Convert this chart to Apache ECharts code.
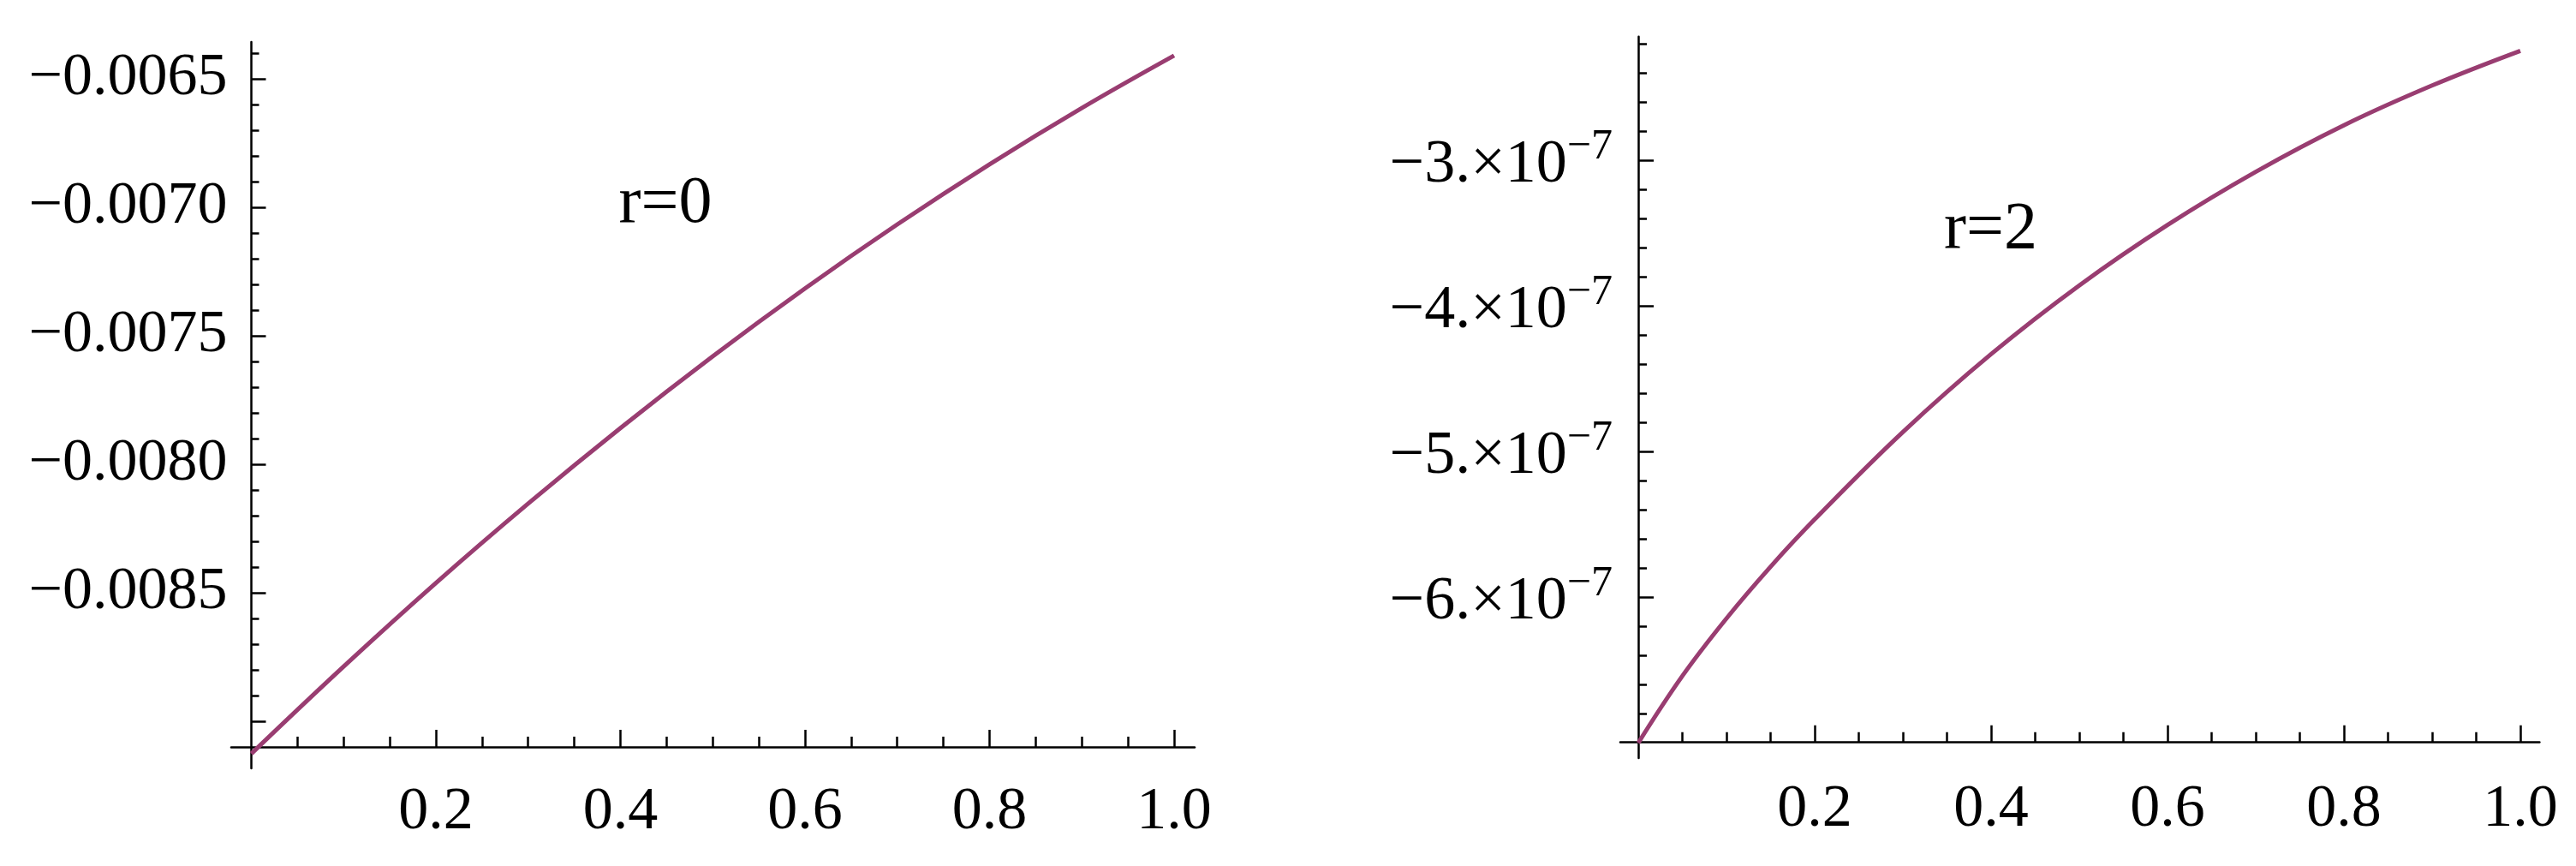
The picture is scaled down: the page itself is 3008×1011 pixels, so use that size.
<!DOCTYPE html>
<html>
<head>
<meta charset="utf-8">
<script src="https://cdn.jsdelivr.net/npm/echarts@6/dist/echarts.min.js"></script>
<style>
  html, body { margin: 0; padding: 0; background: #ffffff; }
  #chart { width: 3008px; height: 1011px; }
</style>
</head>
<body>
<div id="chart"></div>
<script>
// ---------- data ----------
const leftX = [0, 0.1, 0.2, 0.3, 0.4, 0.5, 0.6, 0.7, 0.8, 0.9, 1.0];
const leftY = [-0.009126, -0.008787, -0.008462, -0.008153, -0.007859, -0.007580,
               -0.007316, -0.007067, -0.006833, -0.006614, -0.006410];

const rightX = [0, 0.05, 0.1, 0.15, 0.2, 0.3, 0.4, 0.5, 0.6, 0.7, 0.8, 0.9, 1.0];
const rightY = [-7.0e-7, -6.54e-7, -6.145e-7, -5.79e-7, -5.465e-7, -4.865e-7, -4.33e-7,
                -3.858e-7, -3.443e-7, -3.078e-7, -2.758e-7, -2.485e-7, -2.247e-7];

// ---------- ticks and labels ----------
const xMajorTicks = [0.2, 0.4, 0.6, 0.8, 1.0];
const xTickLabels = ['0.2', '0.4', '0.6', '0.8', '1.0'];
const xMinorTicks = [0.05, 0.1, 0.15, 0.25, 0.3, 0.35, 0.45, 0.5, 0.55, 0.65, 0.7, 0.75, 0.85, 0.9, 0.95];

const leftYMajorTicks = [-0.0065, -0.0070, -0.0075, -0.0080, -0.0085, -0.0090];
const leftYLabelValues = [-0.0065, -0.0070, -0.0075, -0.0080, -0.0085];
const leftYTickLabels = ['\u22120.0065', '\u22120.0070', '\u22120.0075', '\u22120.0080', '\u22120.0085'];
const leftYMinorTicks = [-0.0064, -0.0066, -0.0067, -0.0068, -0.0069, -0.0071, -0.0072, -0.0073, -0.0074,
                         -0.0076, -0.0077, -0.0078, -0.0079, -0.0081, -0.0082, -0.0083, -0.0084,
                         -0.0086, -0.0087, -0.0088, -0.0089];

const rightYMajorTicks = [-3e-7, -4e-7, -5e-7, -6e-7];
const rightYMantissas = ['\u22123.', '\u22124.', '\u22125.', '\u22126.'];
const rightYExponent = '\u22127';
const rightYMinorTicks = [-2.2e-7, -2.4e-7, -2.6e-7, -2.8e-7, -3.2e-7, -3.4e-7, -3.6e-7, -3.8e-7,
                          -4.2e-7, -4.4e-7, -4.6e-7, -4.8e-7, -5.2e-7, -5.4e-7, -5.6e-7, -5.8e-7,
                          -6.2e-7, -6.4e-7, -6.6e-7, -6.8e-7];

const panelLabels = ['r=0', 'r=2'];
const panelLabelAt = [[0.4487, -0.00699], [0.3996, -3.475e-7]];

// ---------- styling ----------
const FONT = 'Liberation Serif';
const INK = '#000000';
const CURVE = '#993D71';
const AXIS_W = 2.5;

function pick(values, labels, v) {
  for (let i = 0; i < values.length; i++) {
    if (Math.abs(values[i] - v) <= Math.abs(values[i]) * 1e-6 + 1e-15) return labels[i];
  }
  return '';
}

function majorX(gridIndex, min, max, offset, margin) {
  return {
    type: 'value', gridIndex, min, max, position: 'bottom', offset,
    axisLine: { show: true, onZero: false, lineStyle: { color: INK, width: AXIS_W } },
    axisTick: { show: true, inside: true, length: 20, customValues: xMajorTicks,
                lineStyle: { color: INK, width: AXIS_W } },
    axisLabel: { show: true, customValues: xMajorTicks, margin,
                 fontFamily: FONT, fontSize: 70, color: INK,
                 formatter: v => pick(xMajorTicks, xTickLabels, v) },
    splitLine: { show: false }, minorTick: { show: false }
  };
}
function minorX(gridIndex, min, max, offset) {
  return {
    type: 'value', gridIndex, min, max, position: 'bottom', offset,
    axisLine: { show: false, onZero: false },
    axisTick: { show: true, inside: true, length: 12, customValues: xMinorTicks,
                lineStyle: { color: INK, width: AXIS_W } },
    axisLabel: { show: false }, splitLine: { show: false }
  };
}

function panelText(xAxisIndex, yAxisIndex, i) {
  return {
    type: 'scatter', xAxisIndex, yAxisIndex, symbolSize: 0, silent: true, z: 6,
    itemStyle: { color: 'rgba(0,0,0,0)', opacity: 1 },
    label: { show: true, position: 'inside', formatter: panelLabels[i],
             fontFamily: FONT, fontSize: 78, color: INK, opacity: 1 },
    data: [panelLabelAt[i]]
  };
}

const option = {
  animation: false,
  backgroundColor: '#ffffff',
  grid: [
    { left: 270, top: 49, width: 1125, height: 848, containLabel: false },
    { left: 1892, top: 42.7, width: 1073.4, height: 842.3, containLabel: false }
  ],
  xAxis: [
    majorX(0, -0.02181, 1.02228, -25, 42),
    minorX(0, -0.02181, 1.02228, -25),
    majorX(1, -0.0204, 1.02175, -18.3, 44),
    minorX(1, -0.0204, 1.02175, -18.3)
  ],
  yAxis: [
    {
      type: 'value', gridIndex: 0, min: -0.009183, max: -0.006357, position: 'left', offset: -23.5,
      axisLine: { show: true, onZero: false, lineStyle: { color: INK, width: AXIS_W } },
      axisTick: { show: true, inside: true, length: 17, customValues: leftYMajorTicks,
                  lineStyle: { color: INK, width: AXIS_W } },
      axisLabel: { show: true, customValues: leftYLabelValues, margin: 28,
                   fontFamily: FONT, fontSize: 70, color: INK,
                   formatter: v => pick(leftYLabelValues, leftYTickLabels, v) },
      splitLine: { show: false }
    },
    {
      type: 'value', gridIndex: 0, min: -0.009183, max: -0.006357, position: 'left', offset: -23.5,
      axisLine: { show: false, onZero: false },
      axisTick: { show: true, inside: true, length: 9, customValues: leftYMinorTicks,
                  lineStyle: { color: INK, width: AXIS_W } },
      axisLabel: { show: false }, splitLine: { show: false }
    },
    {
      type: 'value', gridIndex: 1, min: -7.104e-7, max: -2.1494e-7, position: 'left', offset: -21,
      axisLine: { show: true, onZero: false, lineStyle: { color: INK, width: AXIS_W } },
      axisTick: { show: true, inside: true, length: 18, customValues: rightYMajorTicks,
                  lineStyle: { color: INK, width: AXIS_W } },
      axisLabel: { show: true, customValues: rightYMajorTicks, margin: 30,
                   padding: [12, 0, 0, 0],
                   formatter: v => '{m|' + pick(rightYMajorTicks, rightYMantissas, v) + '\u00d710}{s|' + rightYExponent + '}',
                   rich: {
                     m: { fontFamily: FONT, fontSize: 72, lineHeight: 92, color: INK },
                     s: { fontFamily: FONT, fontSize: 50, lineHeight: 50, color: INK, verticalAlign: 'top' }
                   } },
      splitLine: { show: false }
    },
    {
      type: 'value', gridIndex: 1, min: -7.104e-7, max: -2.1494e-7, position: 'left', offset: -21,
      axisLine: { show: false, onZero: false },
      axisTick: { show: true, inside: true, length: 10, customValues: rightYMinorTicks,
                  lineStyle: { color: INK, width: AXIS_W } },
      axisLabel: { show: false }, splitLine: { show: false }
    }
  ],
  series: [
    {
      type: 'line', xAxisIndex: 0, yAxisIndex: 0, smooth: 0.4, showSymbol: false, z: 5,
      lineStyle: { color: CURVE, width: 5 },
      data: leftX.map((x, i) => [x, leftY[i]])
    },
    {
      type: 'line', xAxisIndex: 2, yAxisIndex: 2, smooth: 0.4, showSymbol: false, z: 5,
      lineStyle: { color: CURVE, width: 5 },
      data: rightX.map((x, i) => [x, rightY[i]])
    },
    panelText(0, 0, 0),
    panelText(2, 2, 1)
  ]
};

const chart = echarts.init(document.getElementById('chart'), null, { renderer: 'canvas' });
chart.setOption(option);
</script>
</body>
</html>
